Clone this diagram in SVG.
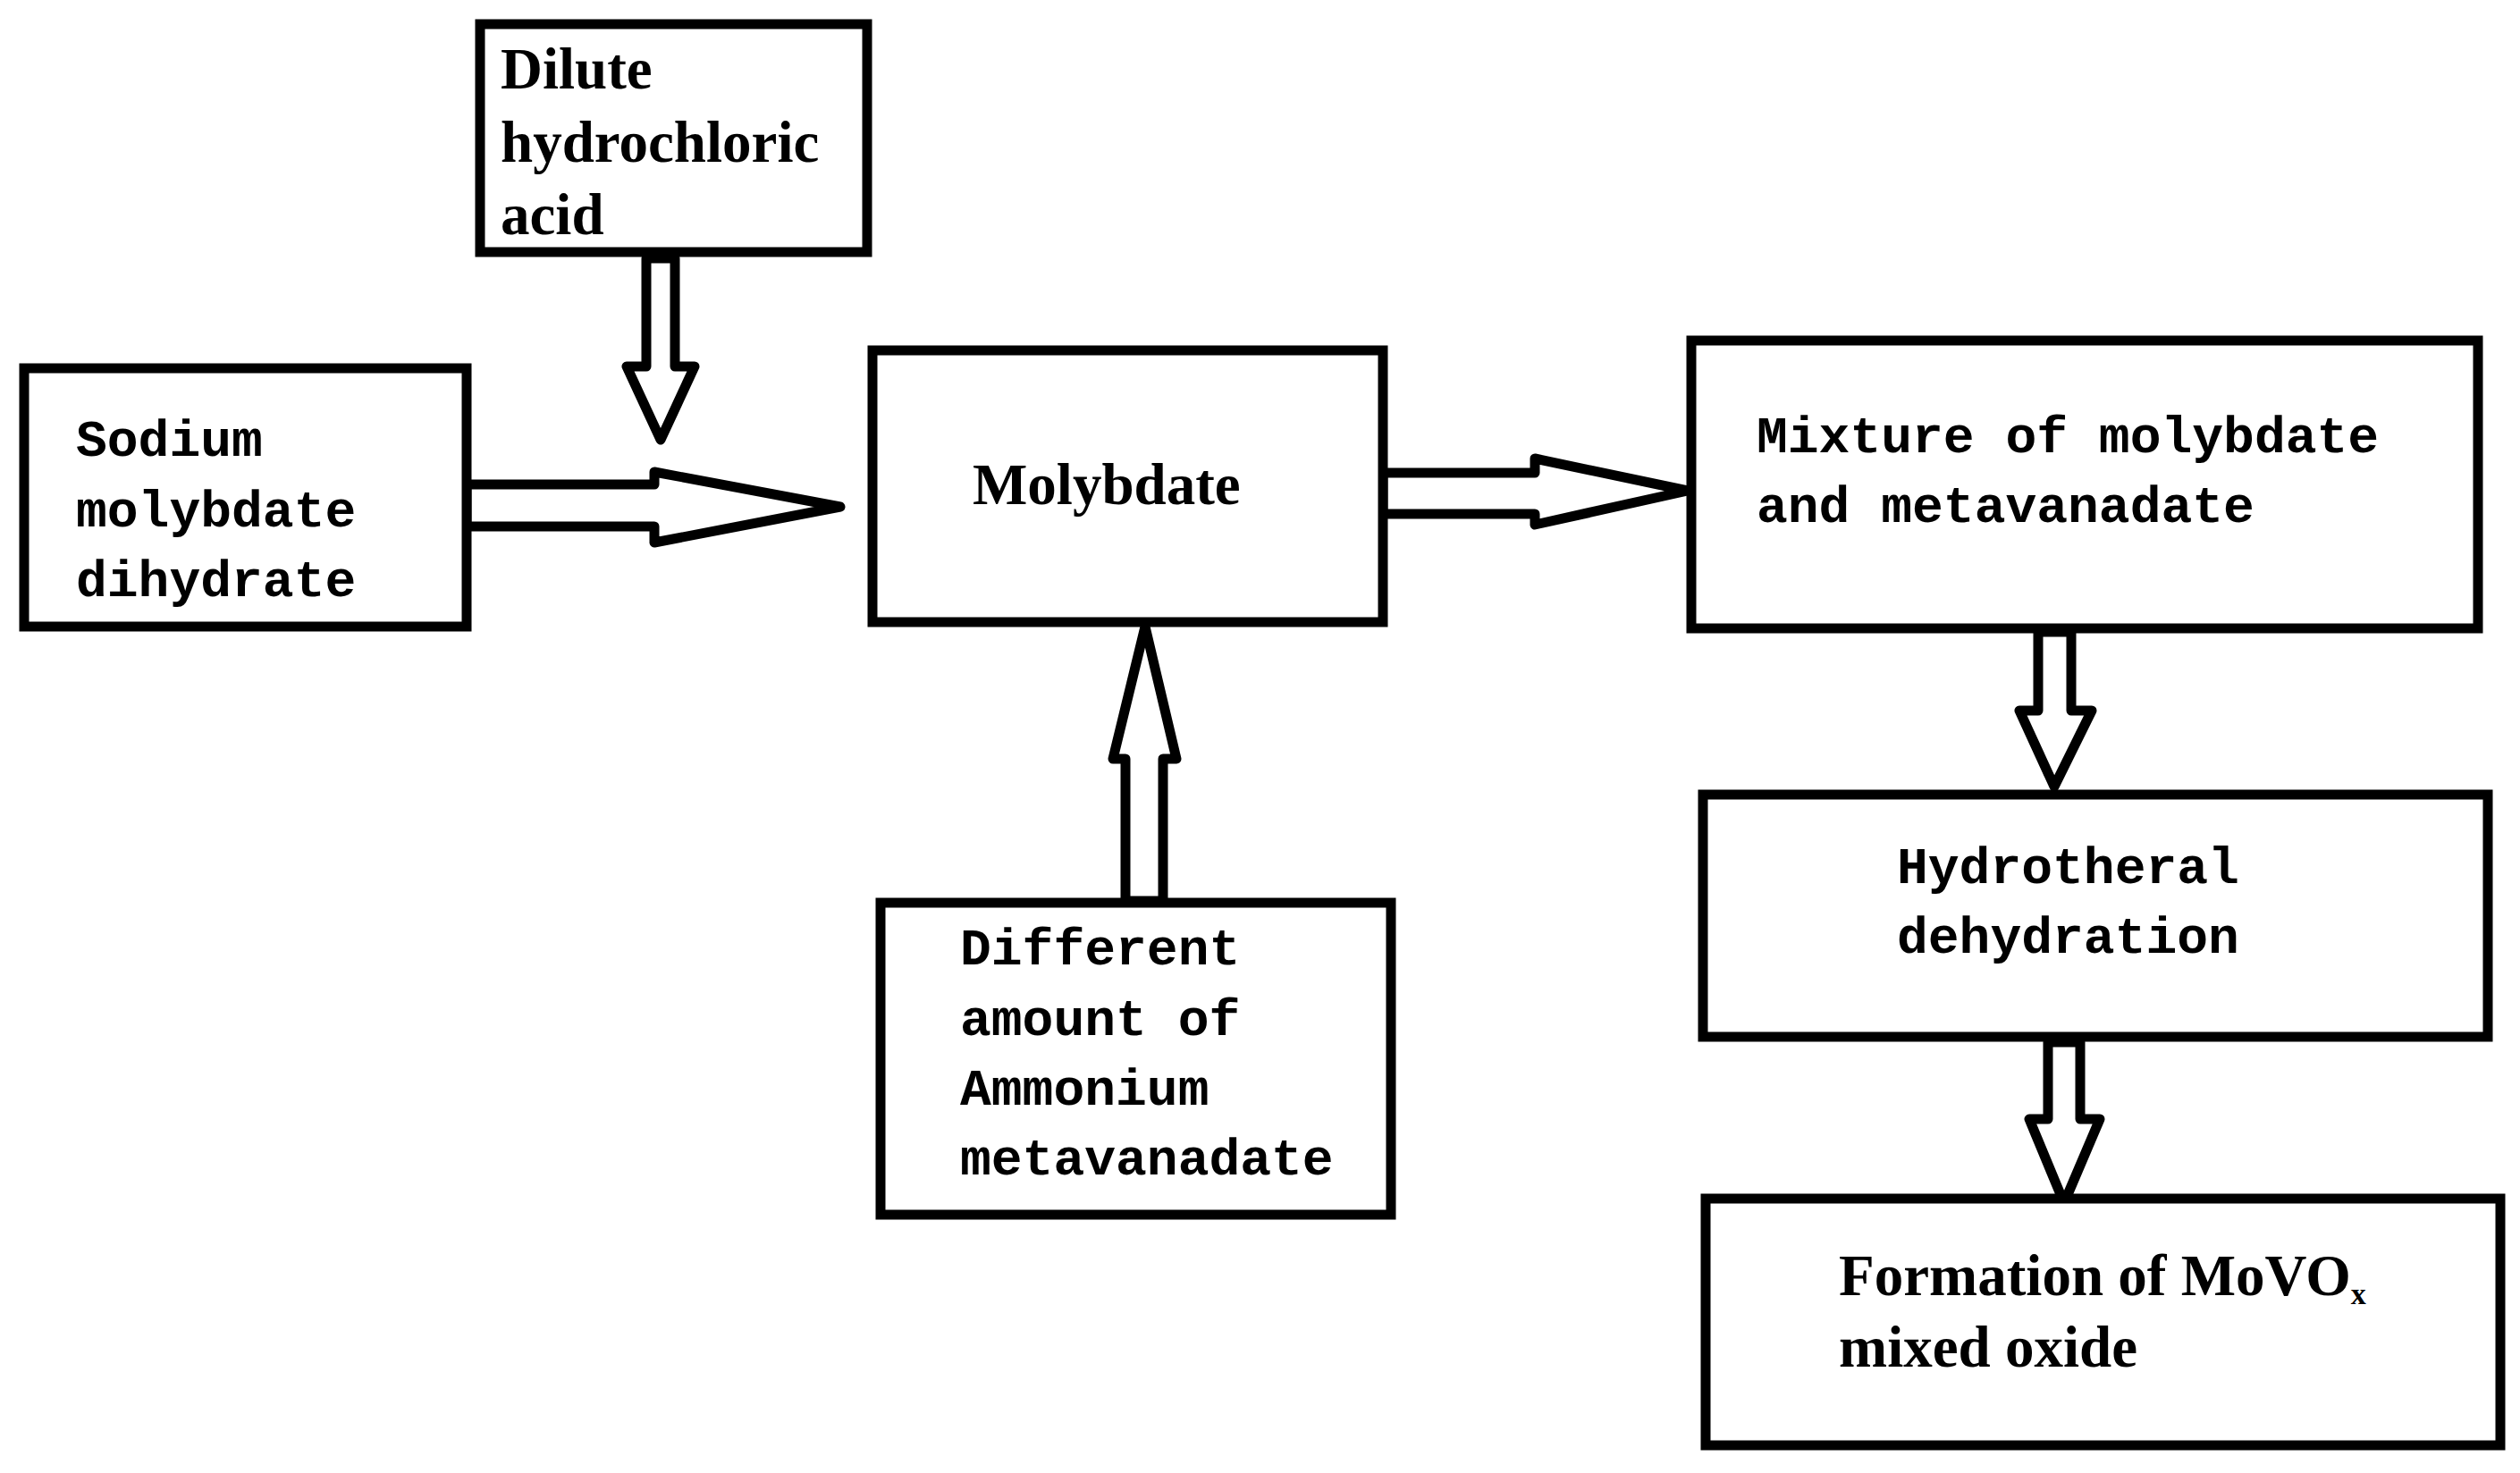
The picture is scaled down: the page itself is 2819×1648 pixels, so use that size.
<svg xmlns="http://www.w3.org/2000/svg" width="2819" height="1648" viewBox="0 0 2819 1648">
<style>
.b{fill:#fff;stroke:#000;stroke-width:11}
.a{fill:#fff;stroke:#000;stroke-width:11;stroke-linejoin:round}
.m{font-family:"Liberation Mono",monospace;font-weight:bold;font-size:58px;fill:#000}
.s{font-family:"Liberation Serif",serif;font-weight:bold;font-size:65px;fill:#000}
</style>
<rect width="2819" height="1648" fill="#fff"/>
<g id="connectors">
<polygon class="a" points="723,289 755,289 755,410 777,410 739,492 701,410 723,410"/>
<polygon class="a" points="522,542 732,542 732,528 940,567 732,607 732,589 522,589"/>
<polygon class="a" points="1547,529 1717,529 1717,513 1888,549 1717,587 1717,575 1547,575"/>
<polygon class="a" points="1259,1008 1259,849 1245,849 1281,701 1316,849 1301,849 1301,1008"/>
<polygon class="a" points="2280,707 2317,707 2317,795 2340,795 2298,880 2259,795 2280,795"/>
<polygon class="a" points="2291,1166 2327,1166 2327,1252 2349,1252 2309,1346 2270,1252 2291,1252"/>
</g>
<g id="dilute"><rect class="b" x="537" y="27" width="433" height="255"/>
<text class="s" x="560" y="99">Dilute</text><text class="s" x="560" y="181">hydrochloric</text><text class="s" x="560" y="262">acid</text></g>
<g id="sodium"><rect class="b" x="27" y="412" width="495" height="289"/>
<text class="m" x="85" y="510">Sodium</text><text class="m" x="85" y="589">molybdate</text><text class="m" x="85" y="667">dihydrate</text></g>
<g id="molybdate"><rect class="b" x="976" y="392" width="571" height="304"/>
<text class="s" x="1088" y="564">Molybdate</text></g>
<g id="mixture"><rect class="b" x="1892" y="381" width="880" height="322"/>
<text class="m" x="1965" y="506">Mixture of molybdate</text><text class="m" x="1965" y="584">and metavanadate</text></g>
<g id="hydro"><rect class="b" x="1905" y="889" width="878" height="271"/>
<text class="m" x="2122" y="988">Hydrotheral</text><text class="m" x="2122" y="1066">dehydration</text></g>
<g id="different"><rect class="b" x="985" y="1010" width="571" height="349"/>
<text class="m" x="1074" y="1079">Different</text><text class="m" x="1074" y="1158">amount of</text><text class="m" x="1074" y="1236">Ammonium</text><text class="m" x="1074" y="1314">metavanadate</text></g>
<g id="formation"><rect class="b" x="1908" y="1341" width="889" height="276"/>
<text class="s" x="2057" y="1449">Formation of MoVO<tspan font-size="34" dy="10">x</tspan></text><text class="s" x="2057" y="1529">mixed oxide</text></g>
</svg>
